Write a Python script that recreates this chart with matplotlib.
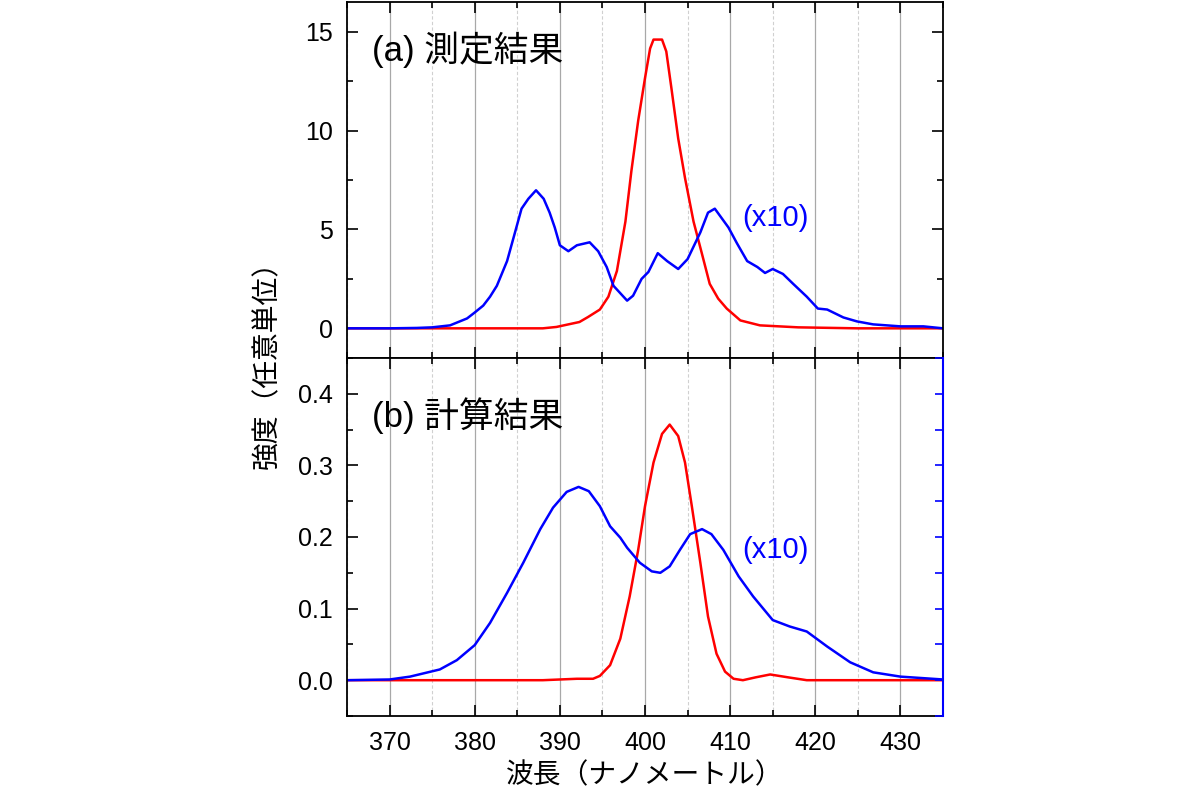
import matplotlib
matplotlib.use("Agg")
import matplotlib.pyplot as plt
from matplotlib.ticker import MultipleLocator, FormatStrFormatter

plt.rcParams['font.family'] = ['Liberation Sans', 'Noto Sans CJK JP', 'DejaVu Sans']

# (a) measured spectra (blue shown x10)
meas_blue_x = [365, 370, 373.2, 375, 377.1, 379.1, 380, 381, 381.8, 382.6, 383.8, 384.7, 385.5,
               386.3, 387.2, 388.1, 388.8, 389.4, 390, 391, 392, 393.5, 394.5, 395.5, 396.3,
               397.9, 398.6, 399.6, 400.4, 401.5, 402.6, 403.9, 405, 406.5, 407.4, 408.2,
               409.8, 410.8, 412, 413.2, 414.1, 415, 416.2, 417.4, 419, 420.3, 421.4, 423.3,
               424.9, 426.8, 430, 432.7, 435]
meas_blue_y = [0.0, 0.0, 0.02, 0.05, 0.15, 0.5, 0.8, 1.15, 1.6, 2.15, 3.4, 4.8, 6.05,
               6.55, 6.98, 6.55, 5.85, 5.1, 4.2, 3.9, 4.2, 4.35, 3.9, 3.1, 2.15,
               1.4, 1.65, 2.5, 2.85, 3.8, 3.4, 3.0, 3.5, 4.85, 5.85, 6.05,
               5.1, 4.3, 3.4, 3.1, 2.8, 3.0, 2.75, 2.25, 1.6, 1.0, 0.95, 0.55,
               0.35, 0.2, 0.1, 0.1, 0.0]
meas_red_x = [365, 380, 388, 389.6, 391, 392.3, 393.3, 394.7, 395.7, 396.7, 397.7, 398.4,
              399.2, 400, 400.6, 401, 402, 402.5, 403.1, 403.9, 404.7, 405.7, 406.7, 407.6,
              408.6, 409.6, 411.2, 413.5, 418, 425, 435]
meas_red_y = [0.0, 0.0, 0.0, 0.07, 0.2, 0.32, 0.57, 0.95, 1.6, 2.9, 5.4, 7.95,
              10.5, 12.65, 14.15, 14.6, 14.6, 14.0, 12.15, 9.6, 7.6, 5.4, 3.75, 2.25,
              1.5, 1.0, 0.4, 0.15, 0.05, 0.0, 0.0]

# (b) calculated spectra (blue shown x10)
calc_blue_x = [365, 370, 372.4, 375.9, 377.9, 380, 381.8, 383.8, 385.7, 387.7, 389.2, 390.8,
               392.2, 393.4, 394.7, 395.9, 397.1, 397.9, 399.4, 400.8, 401.8, 402.9, 404.1,
               405.3, 406.7, 407.8, 409.2, 411, 412.7, 415, 417, 419, 421.4, 424.1, 426.8,
               430, 435]
calc_blue_y = [0.0, 0.001, 0.005, 0.015, 0.028, 0.049, 0.080, 0.122, 0.164, 0.211, 0.241, 0.263,
               0.270, 0.264, 0.243, 0.215, 0.199, 0.185, 0.164, 0.152, 0.150, 0.159, 0.182,
               0.204, 0.211, 0.204, 0.182, 0.145, 0.117, 0.084, 0.075, 0.068, 0.047, 0.025, 0.011,
               0.005, 0.001]
calc_red_x = [365, 388, 392, 393.9, 394.7, 395.9, 397.1, 398.2, 399.2, 400, 401, 402, 402.9,
              403.9, 404.7, 405.5, 406.5, 407.4, 408.4, 409.4, 410.4, 411.5, 413, 414.7, 416.8,
              419, 435]
calc_red_y = [0.0, 0.0, 0.002, 0.002, 0.006, 0.021, 0.058, 0.117, 0.182, 0.243, 0.304, 0.344, 0.357,
              0.341, 0.304, 0.243, 0.164, 0.089, 0.037, 0.012, 0.002, 0.0, 0.004, 0.008, 0.004,
              0.0, 0.0]

xticks = [370, 380, 390, 400, 410, 420, 430]

fig = plt.figure(figsize=(12, 8), dpi=100)
L, R = 347 / 1200, 943 / 1200
ax1 = fig.add_axes([L, 1 - 358 / 800, R - L, 356 / 800])
ax2 = fig.add_axes([L, 1 - 716 / 800, R - L, 358 / 800], sharex=ax1)

for ax in (ax1, ax2):
    ax.set_xlim(365, 435)
    ax.xaxis.set_major_locator(MultipleLocator(10))
    ax.xaxis.set_minor_locator(MultipleLocator(5))
    ax.grid(True, which='major', axis='x', color='#a8a8a8', lw=0.9)
    ax.grid(True, which='minor', axis='x', color='#d0d0d0', lw=0.8, ls=(0, (3, 2)))
    ax.set_axisbelow(True)
    ax.tick_params(which='both', direction='in', top=True, right=True, width=1.2, labelsize=18)
    ax.tick_params(which='major', length=8)
    ax.tick_params(which='minor', length=4)
    ax.tick_params(axis='y', pad=10)
    ax.tick_params(axis='x', pad=11)
    for s in ax.spines.values():
        s.set_linewidth(1.3)

ax1.plot(meas_red_x, meas_red_y, color='#ff0000', lw=1.8)
ax1.plot(meas_blue_x, meas_blue_y, color='#0000ff', lw=1.8)
ax1.set_ylim(-1.5, 16.5)
ax1.yaxis.set_major_locator(MultipleLocator(5))
ax1.yaxis.set_minor_locator(MultipleLocator(2.5))
ax1.tick_params(axis='x', labelbottom=False)
ax1.text(0.042, 0.866, '(a) 測定結果', transform=ax1.transAxes, fontsize=25, va='center', ha='left')
ax1.text(0.664, 0.394, '(x10)', transform=ax1.transAxes, fontsize=21, va='center', ha='left', color='#0000ff')

ax2.plot(calc_red_x, calc_red_y, color='#ff0000', lw=1.8)
ax2.plot(calc_blue_x, calc_blue_y, color='#0000ff', lw=1.8)
ax2.set_ylim(-0.05, 0.45)
ax2.yaxis.set_major_locator(MultipleLocator(0.1))
ax2.yaxis.set_minor_locator(MultipleLocator(0.05))
ax2.yaxis.set_major_formatter(FormatStrFormatter('%.1f'))
ax2.set_xticks(xticks)
ax2.tick_params(axis='y', right=False, which='both')
ax2.spines['right'].set_color('#0000ff')
ax2.text(0.042, 0.84, '(b) 計算結果', transform=ax2.transAxes, fontsize=25, va='center', ha='left')
ax2.text(0.664, 0.464, '(x10)', transform=ax2.transAxes, fontsize=21, va='center', ha='left', color='#0000ff')

axr = ax2.twinx()
axr.set_ylim(-0.05, 0.45)
axr.yaxis.set_major_locator(MultipleLocator(0.05))
axr.tick_params(axis='y', direction='in', length=6, width=1.2, color='#0000ff', labelright=False)
axr.spines['right'].set_color('#0000ff')
axr.spines['right'].set_linewidth(1.5)
for k in ('left', 'top', 'bottom'):
    axr.spines[k].set_visible(False)

fig.text(268 / 1200, 1 - 358 / 800, '強度（任意単位）', rotation=90, fontsize=20, ha='center', va='center')
fig.text(645 / 1200, 1 - 776 / 800, '波長（ナノメートル）', fontsize=20, ha='center', va='center')

fig.savefig('out.png', dpi=100)
